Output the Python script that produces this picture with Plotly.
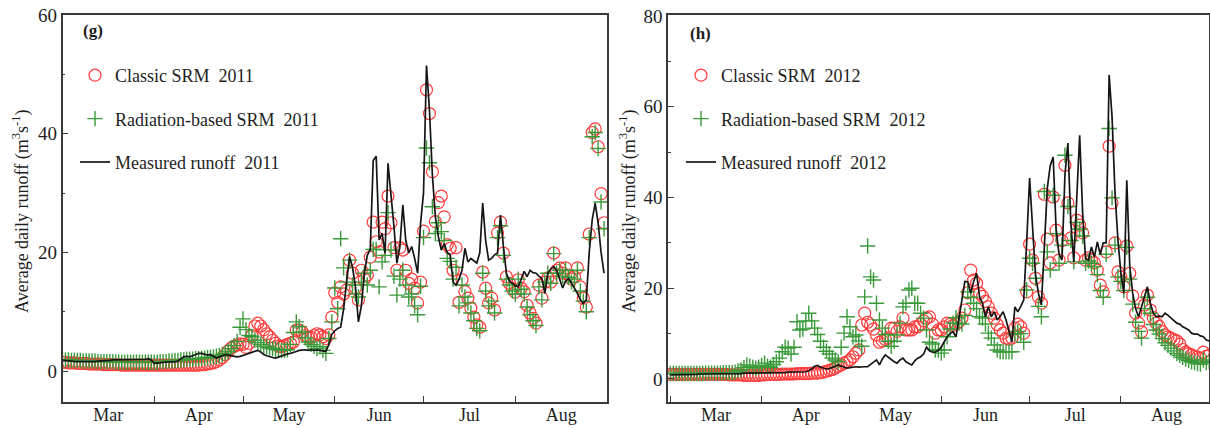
import pandas as pd
import plotly.graph_objects as go

# ---------------- data (daily values, Mar 1 .. Aug 31) ----------------
measured_2011 = (
    [1.8,1.8,1.7,1.7,1.6,1.6,1.6,1.5,1.5,1.5, 1.6,1.6,1.7,1.7,1.8,1.8,1.8,1.9,1.9,1.9,
     2.0,2.0,2.0,2.0,2.0,2.0,2.0,2.0,2.0,2.1, 1.9]
    + [1.3,1.3,1.4,1.5,1.5,1.5,1.6,1.6,1.7, 2.0,2.4,2.5,2.4,2.6,2.8,3.0,3.0,2.8,2.7,
       2.8,2.5,2.2,2.4,2.6,2.8,2.7,2.6,2.5,2.4, 2.5]
    + [2.6,2.8,3.0,3.2,3.4,3.5,3.2,2.8,2.6,2.4, 2.3,2.2,2.4,2.6,2.8,2.9,3.0,3.1,3.3,3.5,
       3.6,3.6,3.5,3.6,3.5,3.6,3.5,3.4,3.3,4.5, 6.2]
    + [6.8,7.2,7.4,10.5,15.0,19.3,17.5,14.2,8.3,11.0, 16.5,19.5,20.5,35.5,36.2,22.1,23.2,19.9,35.0,30.0,
       24.4,18.2,21.0,28.0,22.0,19.9,21.0,19.0,16.5,24.9]
    + [30.0,51.5,44.0,33.0,26.0,22.7,20.4,21.5,20.0,19.6, 15.0,14.5,15.5,17.0,20.7,18.4,19.0,18.6,18.2,19.9,
       28.3,22.0,18.7,19.0,19.6,19.9,26.3,21.0,16.5,15.2, 14.8]
    + [14.4,14.2,15.5,16.8,15.9,17.0,16.6,16.5,16.0,15.6, 13.1,16.5,17.2,17.6,17.0,15.5,14.0,15.2,15.6,14.8,
       14.0,13.1,12.0,11.4,12.0,20.0,25.5,28.3,25.0,20.0, 16.5]
)
classic_2011 = (
    [1.5,1.5,1.4,1.4,1.4,1.3,1.3,1.3,1.3,1.2, 1.2,1.2,1.2,1.2,1.1,1.1,1.1,1.1,1.1,1.1,
     1.0,1.0,1.0,1.0,1.0,1.0,1.0,1.0,1.0,1.0, 1.0]
    + [1.0,1.0,1.0,1.0,1.0,1.0,1.0,1.0,1.0,1.0, 1.0,1.0,1.0,1.0,1.0,1.0,1.1,1.1,1.2,1.3,
       1.4,1.6,1.9,2.3,2.8,3.4,3.9,4.2,4.4,4.6]
    + [4.5,4.0,4.7,6.0,7.6,8.1,7.6,7.0,6.3,5.8, 5.2,4.7,4.2,4.1,4.3,4.5,4.7,4.9,6.9,6.9,
       6.6,6.0,5.7,5.7,6.0,6.3,6.1,5.8,5.5,6.1, 9.1]
    + [13.2,11.6,14.2,13.0,13.7,18.7,16.5,14.0,12.0,17.0, 15.5,16.2,19.2,25.1,21.8,20.1,25.1,24.0,29.5,25.0,
       20.8,17.0,20.8,20.4,17.0,14.8,15.5,14.0,11.5,15.0]
    + [23.6,47.4,43.4,33.6,25.2,28.4,29.5,26.0,21.3,20.7, 17.0,20.8,11.6,15.4,13.4,12.3,10.6,9.1,7.8,7.4,
       16.7,14.0,11.5,12.3,10.3,23.3,25.1,19.9,15.9,14.8, 13.9]
    + [13.3,15.4,14.0,13.4,11.1,9.8,8.9,8.1,14.5,12.3, 15.0,15.7,15.0,19.9,17.0,17.4,16.5,17.4,16.2,15.5,
       15.9,17.4,14.2,12.3,10.8,23.1,40.2,40.8,37.8,29.9, 25.0]
)
radiation_2011 = (
    [1.9,1.9,1.9,1.8,1.8,1.8,1.8,1.7,1.7,1.7, 1.7,1.7,1.6,1.6,1.6,1.6,1.6,1.6,1.5,1.5,
     1.5,1.5,1.5,1.5,1.5,1.5,1.5,1.5,1.5,1.5, 1.5]
    + [1.5,1.5,1.6,1.6,1.6,1.7,1.7,1.8,1.8,1.9, 1.9,2.0,2.0,2.0,2.1,2.1,2.2,2.2,2.3,2.3,
       2.4,2.5,2.6,2.8,3.0,3.3,3.8,4.3,5.0,7.4]
    + [8.8,7.0,6.0,5.8,5.2,4.8,4.5,4.2,4.1,3.9, 3.8,3.7,3.6,3.5,3.5,3.6,4.5,6.5,8.3,7.5,
       6.6,5.6,4.9,4.5,4.2,3.8,4.1,3.5,3.0,5.5, 8.3]
    + [14.0,10.5,22.3,17.4,15.0,18.7,14.5,13.0,12.5,15.0, 16.5,14.5,17.0,20.5,20.5,14.2,18.4,19.5,26.7,20.4,
       16.0,12.8,15.5,17.0,14.5,12.5,13.0,11.0,9.5,14.3]
    + [22.5,37.6,35.1,27.7,23.2,25.0,23.5,22.0,19.0,18.5, 15.5,17.5,11.0,14.5,12.5,11.5,9.8,8.5,7.2,6.8,
       16.5,13.5,11.0,11.8,9.8,22.5,24.5,19.5,15.5,14.5, 13.5]
    + [13.0,15.5,13.8,13.0,10.8,9.5,8.5,7.7,14.2,12.0, 15.0,16.5,14.8,19.8,16.5,17.0,16.0,17.0,15.8,15.0,
       15.5,17.0,13.5,11.8,10.0,22.5,39.5,40.2,37.5,28.5, 24.0]
)

measured_2012 = (
    [0.9,0.9,0.9,1.0,1.0,1.0,1.0,1.0,1.0,1.0, 1.1,1.1,1.1,1.1,1.1,1.1,1.1,1.1,1.2,1.2,
     1.2,1.2,1.2,1.2,1.2,1.3,1.3,1.3,1.3,1.3, 1.3]
    + [1.3,1.3,1.3,1.3,1.4,1.4,1.4,1.4,1.4,1.5, 1.5,1.5,1.5,1.6,1.6,1.6,1.8,2.2,2.8,3.0,
       2.6,2.4,2.2,2.3,2.5,2.8,3.1,2.9,2.6,2.4]
    + [2.5,2.6,2.7,2.6,2.7,2.7,2.7,3.2,3.9,4.2, 3.1,4.4,5.3,4.8,4.2,3.8,3.5,4.2,4.6,3.8,
       3.4,3.1,4.0,4.6,4.9,5.5,7.0,6.2,5.9,5.9, 6.3]
    + [7.0,8.2,9.3,10.0,10.4,9.3,13.0,17.4,21.5,21.4, 18.9,21.5,23.3,18.1,16.7,13.7,15.9,13.7,14.8,13.0,
       13.8,14.8,13.0,10.8,8.1,15.9,14.8,16.0,17.4,30.0]
    + [44.3,33.5,23.0,18.9,16.3,29.0,42.0,47.0,48.9,33.0, 27.5,26.2,45.0,52.0,34.4,25.8,40.1,53.7,36.6,26.5,
       26.2,29.1,26.9,30.2,27.4,30.0,30.0,67.0,57.7,41.0, 30.6]
    + [23.3,18.9,43.8,25.0,18.9,15.5,13.7,15.9,18.0,20.3, 16.7,14.5,13.7,13.9,13.7,14.5,14.0,13.4,12.8,12.3,
       12.1,11.5,11.2,10.8,10.1,9.9,9.9,9.5,9.3,8.6, 8.4]
)
classic_2012 = (
    [1.0,1.0,1.0,1.0,1.0,1.0,1.0,1.0,1.0,1.0, 1.0,1.0,1.0,1.0,1.0,1.0,1.0,1.0,1.0,1.0,
     0.9,0.9,0.9,0.9,0.9,0.8,0.8,0.8,0.8,0.8, 0.8]
    + [0.9,0.9,1.0,1.0,1.0,1.0,1.0,1.1,1.1,1.1, 1.1,1.1,1.2,1.2,1.2,1.2,1.2,1.3,1.3,1.3,
       1.4,1.5,1.7,1.9,2.1,2.4,2.8,3.1,3.5,3.8]
    + [4.2,4.9,5.7,6.4,11.9,14.5,12.5,11.9,11.0,9.7, 8.1,8.4,8.7,9.0,11.2,11.2,10.5,11.5,13.4,10.8,
       10.8,10.8,11.5,11.5,12.1,12.8,13.4,13.7,12.1,10.1, 10.8]
    + [10.8,11.5,12.3,12.1,11.8,12.1,12.6,13.4,15.2,19.0, 24.0,21.8,21.1,18.9,18.2,17.1,15.9,14.5,13.4,12.0,
       10.8,10.1,9.0,8.8,9.0,11.2,12.1,11.5,10.1,19.2]
    + [29.7,26.2,22.2,18.1,16.7,40.7,30.8,25.6,40.1,32.8, 26.2,30.5,47.1,38.8,31.1,26.7,35.0,33.9,32.2,26.2,
       26.7,26.2,25.6,24.0,20.7,19.2,28.0,51.3,38.8,30.0, 23.6]
    + [22.5,20.3,29.3,23.3,18.3,14.5,12.3,10.4,16.3,18.5, 15.2,13.5,12.3,11.6,10.5,9.7,9.3,9.0,8.7,8.4,
       7.7,6.5,5.9,5.6,5.3,5.0,4.8,4.6,5.9,5.0, 5.2]
)
radiation_2012 = (
    [1.2,1.2,1.2,1.2,1.2,1.2,1.2,1.2,1.2,1.2, 1.2,1.2,1.3,1.3,1.3,1.3,1.3,1.3,1.4,1.4,
     1.4,1.4,1.5,1.8,2.0,2.5,3.1,2.8,2.6,2.4, 2.6]
    + [3.0,3.5,2.8,2.6,3.2,3.8,4.6,6.0,7.0,6.8, 5.5,7.0,12.6,10.8,11.0,12.8,14.5,12.8,11.2,9.8,
       8.3,7.0,6.1,5.5,4.6,4.2,3.8,7.0,10.1,13.7]
    + [11.5,9.3,9.7,8.4,7.2,18.1,29.3,22.5,21.8,16.7, 13.0,11.2,9.8,8.3,7.2,8.3,9.7,12.3,15.9,16.7,
       19.6,20.0,16.7,16.7,14.5,13.4,10.8,8.1,7.7,6.4, 6.4]
    + [5.7,6.4,9.3,11.0,12.3,13.5,12.3,12.1,14.0,19.2, 18.0,16.7,15.5,13.7,13.4,12.1,10.1,9.0,7.5,6.4,
       6.0,6.0,6.0,6.0,6.0,9.9,10.5,10.0,8.1,19.6]
    + [26.6,25.5,22.2,16.0,13.7,41.3,28.0,24.0,40.5,32.0, 25.5,29.5,49.3,38.0,30.5,25.8,34.5,33.0,31.5,25.5,
       26.0,25.5,24.8,23.0,19.5,18.0,27.5,55.2,39.9,29.5, 22.5]
    + [21.5,19.5,29.0,22.0,16.5,12.5,10.5,9.0,15.5,18.0, 14.5,12.0,10.8,9.9,8.9,8.0,7.4,6.8,6.2,5.6,
       5.2,4.8,4.4,4.1,3.8,3.6,3.4,3.3,4.2,3.6, 3.8]
)

dates_2011 = pd.date_range("2011-03-01", periods=len(measured_2011), freq="D")
dates_2012 = pd.date_range("2012-03-01", periods=len(measured_2012), freq="D")

panels = [
    dict(year="2011", dates=dates_2011, classic=classic_2011, radiation=radiation_2011,
         measured=measured_2011, xa="x", ya="y", legend="legend"),
    dict(year="2012", dates=dates_2012, classic=classic_2012, radiation=radiation_2012,
         measured=measured_2012, xa="x2", ya="y2", legend="legend2"),
]

# ---------------- styling ----------------
W, H = 1210, 428
SERIF = "Liberation Serif"
RED = "#ff3c3c"
GREEN = "#3a9a3a"
FRAME = "#3a3a3a"
TXT = "#1e1e1e"

def px_x(p):
    return p / W

def px_y(p):
    return (H - p) / H

fig = go.Figure()
for i, p in enumerate(panels):
    fig.add_trace(go.Scatter(
        x=p["dates"], y=p["classic"], mode="markers", name=f"Classic SRM  {p['year']}",
        marker=dict(symbol="circle-open", size=12, color=RED, line=dict(width=1.2, color=RED)),
        xaxis=p["xa"], yaxis=p["ya"], legend=p["legend"], legendgroup=f"c{i}"))
    fig.add_trace(go.Scatter(
        x=p["dates"], y=p["radiation"], mode="markers", name=f"Radiation-based SRM  {p['year']}",
        marker=dict(symbol="cross-thin-open", size=11, color=GREEN, line=dict(width=1.4, color=GREEN)),
        xaxis=p["xa"], yaxis=p["ya"], legend=p["legend"], legendgroup=f"r{i}"))
    fig.add_trace(go.Scatter(
        x=p["dates"], y=p["measured"], mode="lines", name=f"Measured runoff  {p['year']}",
        line=dict(color="#151515", width=1.7),
        xaxis=p["xa"], yaxis=p["ya"], legend=p["legend"], legendgroup=f"m{i}"))

ydom = [px_y(402), px_y(15)]
common_x = dict(
    type="date", dtick="M1", tickformat="%b", ticklabelmode="period",
    ticks="inside", ticklen=6, tickwidth=1.3, tickcolor=FRAME,
    showline=True, linecolor=FRAME, linewidth=1.6, mirror=True,
    showgrid=False, zeroline=False, automargin=False,
    tickfont=dict(family=SERIF, size=18, color=TXT),
)
common_y = dict(
    dtick=20, tick0=0, ticks="inside", ticklen=6, tickwidth=1.3, tickcolor=FRAME,
    minor=dict(dtick=10, tick0=0, ticks="inside", ticklen=3, tickcolor=FRAME, showgrid=False),
    showline=True, linecolor=FRAME, linewidth=1.6, mirror=True,
    showgrid=False, zeroline=False, automargin=False, domain=ydom,
    tickfont=dict(family=SERIF, size=19, color=TXT),
)

fig.update_layout(
    width=W, height=H,
    margin=dict(l=0, r=0, t=0, b=0),
    paper_bgcolor="white", plot_bgcolor="white",
    font=dict(family=SERIF, color=TXT),
    xaxis=dict(common_x, domain=[px_x(62.5), px_x(607)], anchor="y", tick0="2011-03-01",
               range=["2011-03-01", "2011-09-01"]),
    yaxis=dict(common_y, anchor="x", range=[-5.2, 60]),
    xaxis2=dict(common_x, domain=[px_x(668), px_x(1209)], anchor="y2", tick0="2012-03-01",
                range=["2012-02-29 05:00", "2012-08-30 22:00"]),
    yaxis2=dict(common_y, anchor="x2", range=[-5.07, 80.2]),
    legend=dict(x=px_x(75), y=px_y(57), xanchor="left", yanchor="top",
                bgcolor="rgba(0,0,0,0)", borderwidth=0, traceorder="grouped",
                tracegroupgap=17, font=dict(family=SERIF, size=18, color=TXT)),
    legend2=dict(x=px_x(681), y=px_y(57), xanchor="left", yanchor="top",
                 bgcolor="rgba(0,0,0,0)", borderwidth=0, traceorder="grouped",
                 tracegroupgap=17, font=dict(family=SERIF, size=18, color=TXT)),
    showlegend=True,
)

# pull the month labels slightly closer to the axis (ignored if unsupported)
try:
    fig.update_xaxes(ticklabelstandoff=-4)
except Exception:
    pass

ytitle = "Average daily runoff (m<sup>3</sup>s<sup>-1</sup>)"
for xc, lab, lx, ly in [(21, "(g)", 93, 31), (628, "(h)", 700, 33)]:
    fig.add_annotation(text=ytitle, x=px_x(xc), y=px_y(211), xref="paper", yref="paper",
                       textangle=-90, showarrow=False, xanchor="center", yanchor="middle",
                       font=dict(family=SERIF, size=18, color=TXT))
    fig.add_annotation(text=f"<b>{lab}</b>", x=px_x(lx), y=px_y(ly), xref="paper", yref="paper",
                       showarrow=False, xanchor="center", yanchor="middle",
                       font=dict(family=SERIF, size=17, color=TXT))

fig.write_html("out.html")
